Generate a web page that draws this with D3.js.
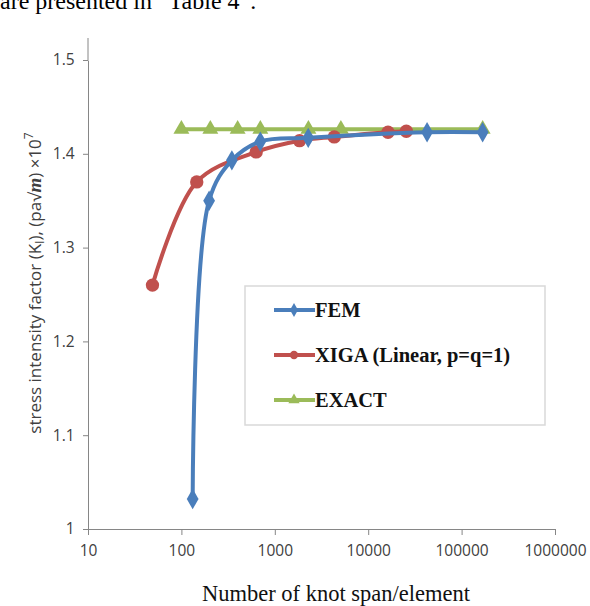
<!DOCTYPE html>
<html><head><meta charset="utf-8">
<script src="https://cdn.jsdelivr.net/npm/d3@7"></script>
<style>body{margin:0;background:#fff}svg{display:block}</style>
</head><body>
<svg id="c" width="590" height="606"></svg>
<script>
const xTicks = [10, 100, 1000, 10000, 100000, 1000000];
const yTicks = [1, 1.1, 1.2, 1.3, 1.4, 1.5];
const femX = [132, 198, 347, 700, 2280, 42700, 168000];
const femY = [1.032, 1.350, 1.393, 1.413, 1.417, 1.423, 1.423];
const xigaX = [49, 146, 632, 1840, 4330, 16300, 25600];
const xigaY = [1.260, 1.370, 1.402, 1.414, 1.418, 1.423, 1.424];
const exactX = [100, 204, 400, 700, 2290, 5100, 168000];
const exactY = [1.4262, 1.4262, 1.4262, 1.4262, 1.4262, 1.4262, 1.4262];
const legendLabels = ["FEM", "XIGA (Linear, p=q=1)", "EXACT"];

const svg = d3.select("#c");
const x = d3.scaleLog().domain([10, 1000000]).range([88, 555]);
const y = d3.scaleLinear().domain([1, 1.5]).range([529, 60]);
const axisCol = "#868686", txtCol = "#404040";

// top cut-off text
svg.append("text").attr("x", 0).attr("y", 9).attr("font-family", "Liberation Serif")
  .attr("font-size", 24).attr("fill", "#000").text("are presented in \u201CTable 4\u201D.");

// axes
const xAxis = svg.append("g").attr("transform", "translate(0,529)")
  .call(d3.axisBottom(x).tickValues(xTicks).tickFormat(d3.format("d")).tickSize(6).tickSizeOuter(0));
const yAxis = svg.append("g").attr("transform", "translate(88,0)")
  .call(d3.axisLeft(y).tickValues(yTicks).tickFormat(d => d === 1 ? "1" : d3.format(".1f")(d)).tickSize(5).tickSizeOuter(0));
[xAxis, yAxis].forEach(g => {
  g.selectAll("path,line").attr("stroke", axisCol).attr("stroke-width", 1);
  g.selectAll("text").attr("fill", txtCol).attr("font-family", "Open Sans").attr("font-size", 15.5);
});
xAxis.selectAll("text").attr("dy", "1.15em");
yAxis.selectAll("text").attr("dx", "-0.35em");
// extend y axis line to the top
svg.append("line").attr("x1", 88).attr("x2", 88).attr("y1", 38).attr("y2", 60).attr("stroke", axisCol);

// axis titles
svg.append("text").attr("x", 336).attr("y", 601).attr("text-anchor", "middle")
  .attr("font-family", "Liberation Serif").attr("font-size", 22.5).attr("fill", "#111")
  .text("Number of knot span/element");
const yt = svg.append("text").attr("transform", "translate(41,283) rotate(-90)").attr("text-anchor", "middle")
  .attr("font-family", "Open Sans").attr("font-size", 17).attr("fill", txtCol);
yt.append("tspan").text("stress intensity factor (K");
yt.append("tspan").attr("font-size", 12).attr("dy", 3).text("I");
yt.append("tspan").attr("dy", -3).text("), (pa\u221A");
yt.append("tspan").attr("font-family", "Liberation Serif").attr("font-weight", "bold").attr("font-style", "italic").attr("font-size", 19).text("m");
yt.append("tspan").text(") \u00D710");
yt.append("tspan").attr("font-size", 12).attr("dy", -8).text("7");

// series
const series = [
  {xs: exactX, ys: exactY, col: "#9BBB59", sym: d3.symbolTriangle, size: 110},
  {xs: xigaX, ys: xigaY, col: "#C0504D", sym: d3.symbolCircle, size: 140},
  {xs: femX, ys: femY, col: "#4A7EBB", sym: d3.symbolDiamond, size: 120},
];
const line = d3.line().x(d => x(d[0])).y(d => y(d[1])).curve(d3.curveCatmullRom.alpha(0.5));
series.forEach(s => {
  const pts = s.xs.map((v, i) => [v, s.ys[i]]);
  svg.append("path").attr("d", line(pts)).attr("fill", "none").attr("stroke", s.col).attr("stroke-width", 4);
  svg.append("g").selectAll("path").data(pts).join("path")
    .attr("transform", d => `translate(${x(d[0])},${y(d[1])})`)
    .attr("d", d3.symbol().type(s.sym).size(s.size)).attr("fill", s.col);
});

// legend
svg.append("rect").attr("x", 245).attr("y", 286).attr("width", 300).attr("height", 139)
  .attr("fill", "#fff").attr("stroke", "#d9d9d9").attr("stroke-width", 1.5);
const legCols = ["#4A7EBB", "#C0504D", "#9BBB59"];
const legSyms = [d3.symbolDiamond, d3.symbolCircle, d3.symbolTriangle];
legendLabels.forEach((lab, i) => {
  const ly = 310 + i * 45;
  svg.append("line").attr("x1", 274).attr("x2", 315).attr("y1", ly).attr("y2", ly)
    .attr("stroke", legCols[i]).attr("stroke-width", 4);
  svg.append("path").attr("transform", `translate(294,${ly})`).attr("d", d3.symbol().type(legSyms[i]).size(55)).attr("fill", legCols[i]);
  svg.append("text").attr("x", 315).attr("y", ly + 7).attr("font-family", "Liberation Serif")
    .attr("font-weight", "bold").attr("font-size", 20.5).attr("fill", "#111").text(lab);
});
</script>
</body></html>
